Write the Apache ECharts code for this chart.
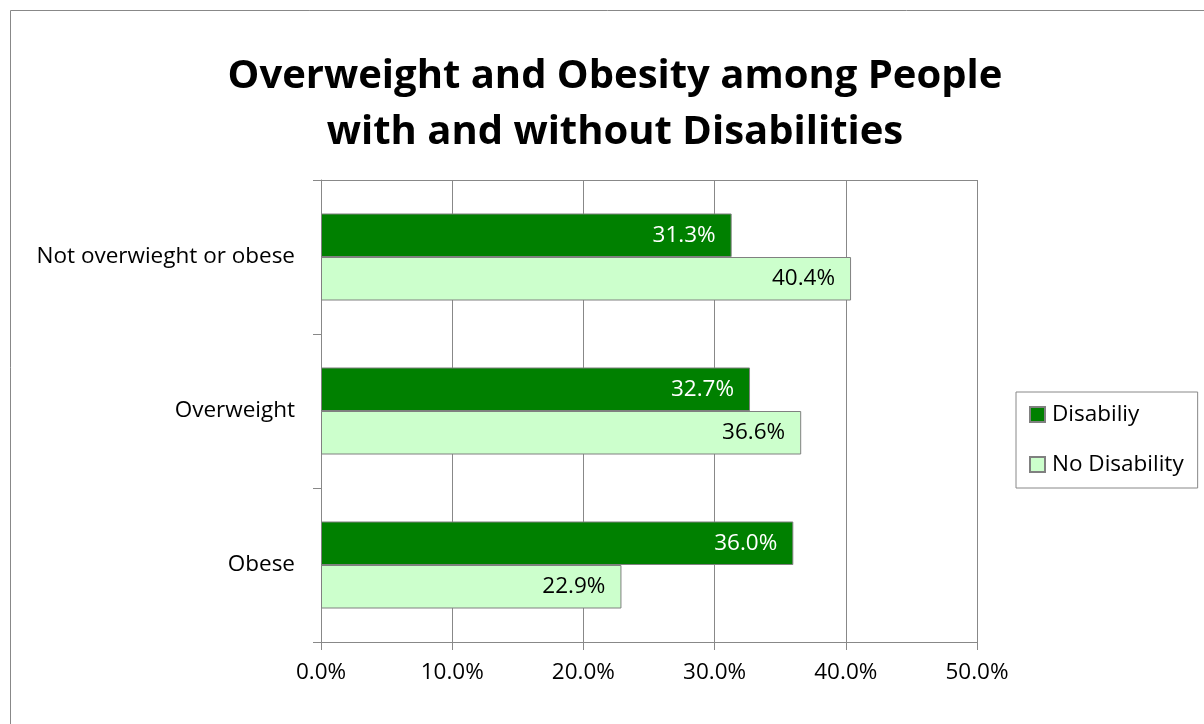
<!DOCTYPE html>
<html>
<head>
<meta charset="utf-8">
<script src="https://cdn.jsdelivr.net/npm/echarts@6/dist/echarts.min.js"></script>
<style>
html,body{margin:0;padding:0;background:#fff;}
#chart{width:1204px;height:724px;}
</style>
</head>
<body>
<div id="chart"></div>
<script>
const categories = ['Not overwieght or obese', 'Overweight', 'Obese'];
const disability = [31.3, 32.7, 36.0];
const noDisability = [40.4, 36.6, 22.9];
const seriesNames = ['Disabiliy', 'No Disability'];
const titleText = 'Overweight and Obesity among People\nwith and without Disabilities';

const FONT = 'Open Sans';
const FS = 22.5;
const chart = echarts.init(document.getElementById('chart'));
const labelCfg = (color) => ({
  show: true, position: 'insideRight', distance: 16,
  color: color, fontFamily: FONT, fontSize: FS,
  formatter: p => p.value.toFixed(1) + '%'
});
chart.setOption({
  animation: false,
  backgroundColor: '#fff',
  graphic: [{
    type: 'rect', shape: {x: 10.5, y: 10.5, width: 1400, height: 900},
    style: {fill: 'none', stroke: '#888', lineWidth: 1}, silent: true
  }],
  title: {
    text: titleText, left: 610, textAlign: 'center', top: 44,
    textStyle: {fontFamily: FONT, fontWeight: 'bold', fontSize: 40, lineHeight: 56, color: '#000'}
  },
  legend: {
    orient: 'vertical', left: 1016, top: 392,
    padding: [11, 14, 12, 13], itemGap: 27,
    itemWidth: 15, itemHeight: 15,
    borderColor: '#888', borderWidth: 1,
    icon: 'rect',
    textStyle: {fontFamily: FONT, fontSize: FS, color: '#000', padding: [0, 0, 0, 2]},
    data: seriesNames
  },
  grid: {left: 321, right: 227, top: 180, bottom: 82},
  xAxis: [{
    type: 'value', min: 0, max: 50, interval: 10,
    axisLine: {show: true, lineStyle: {color: '#888', width: 1}},
    axisTick: {show: true, length: 8, lineStyle: {color: '#888'}},
    splitLine: {show: true, lineStyle: {color: '#888', width: 1}},
    axisLabel: {fontFamily: FONT, fontSize: FS, color: '#000', margin: 19,
      formatter: v => v.toFixed(1) + '%'}
  }, {
    type: 'value', position: 'top', min: 0, max: 50, interval: 10,
    axisLine: {show: true, lineStyle: {color: '#888', width: 1}},
    axisTick: {show: false}, axisLabel: {show: false}, splitLine: {show: false}
  }],
  yAxis: {
    type: 'category', data: categories, inverse: true,
    axisLine: {show: true, lineStyle: {color: '#888', width: 1}},
    axisTick: {show: true, length: 8, inside: false, lineStyle: {color: '#888'}},
    axisLabel: {fontFamily: FONT, fontSize: FS, color: '#000', margin: 26}
  },
  series: [{
    name: seriesNames[0], type: 'bar', data: disability,
    barGap: '0%', barCategoryGap: '43.5%',
    itemStyle: {color: '#008000', borderColor: '#808080', borderWidth: 1},
    label: labelCfg('#fff')
  }, {
    name: seriesNames[1], type: 'bar', data: noDisability,
    barGap: '0%', barCategoryGap: '43.5%',
    itemStyle: {color: '#ccffcc', borderColor: '#808080', borderWidth: 1},
    label: labelCfg('#000')
  }]
});
</script>
</body>
</html>
